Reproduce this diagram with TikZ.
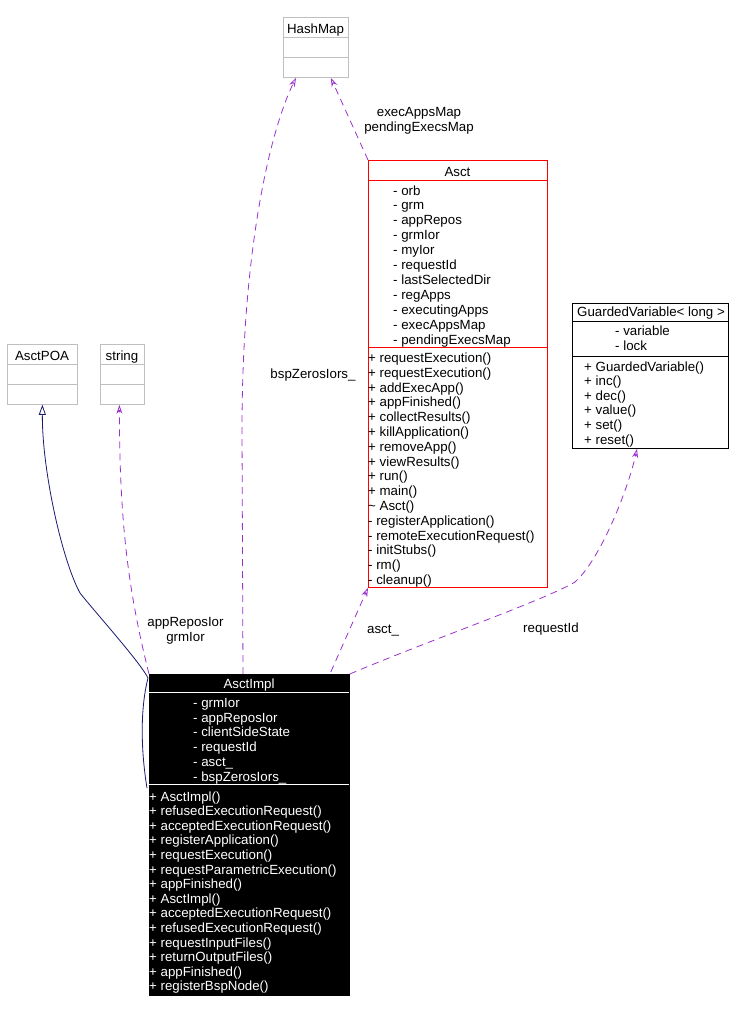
\documentclass[tikz,border=0pt]{standalone}
\usepackage{fontspec}
\setmainfont{Liberation Sans}
\usetikzlibrary{arrows.meta,calc}

\definecolor{edgepurple}{RGB}{154,50,205}
\definecolor{inhnavy}{RGB}{25,25,112}
\definecolor{boxgray}{RGB}{191,191,191}

\tikzset{
  classbox/.style={draw=boxgray, line width=0.8pt, inner sep=0pt, anchor=north west},
  member/.style={inner sep=0pt, anchor=base west, font=\fontsize{13.3}{15}\selectfont},
  classtitle/.style={member, anchor=base},
  useedge/.style={edgepurple, line width=0.8pt, dash pattern=on 7pt off 5pt,
    -{Stealth[open,length=9pt,width=6pt]}},
  inherit/.style={inhnavy, line width=0.8pt, -{Triangle[open,length=10pt,width=7pt]}},
  edgelabel/.style={member, align=center, anchor=north}
}

\begin{document}
\begin{tikzpicture}[x=1pt,y=-1pt]
\useasboundingbox (0,0) rectangle (733,1012);

% plain classes
\node[classbox, minimum width=65pt, minimum height=60pt] (hashmap) at (283,17) {};
\draw[boxgray, line width=0.8pt] (283,37) -- (348,37) (283,57) -- (348,57);
\node[classtitle] (hashmap-t) at (315.5,33) {HashMap};

\node[classbox, minimum width=70pt, minimum height=60pt] (asctpoa) at (7,344) {};
\draw[boxgray, line width=0.8pt] (7,364) -- (77,364) (7,384) -- (77,384);
\node[classtitle] (asctpoa-t) at (42,360) {AsctPOA};

\node[classbox, minimum width=44pt, minimum height=60pt] (string) at (100,344) {};
\draw[boxgray, line width=0.8pt] (100,364) -- (144,364) (100,384) -- (144,384);
\node[classtitle] (string-t) at (122,360) {string};

% Asct
\node[classbox, draw=red, minimum width=179pt, minimum height=427pt] (asct) at (368,160) {};
\draw[red, line width=0.8pt] (368,180.5) -- (547,180.5) (368,347.5) -- (547,347.5);
\node[classtitle] (asct-t) at (457.5,176) {Asct};
\foreach \a [count=\i from 0] in {orb,grm,appRepos,grmIor,myIor,requestId,lastSelectedDir,
    regApps,executingApps,execAppsMap,pendingExecsMap}
  \node[member] (asct-a\i) at (393,195+14.9*\i) {- \a};
\foreach \m [count=\i from 0] in {+ requestExecution(),+ requestExecution(),+ addExecApp(),
    + appFinished(),+ collectResults(),+ killApplication(),+ removeApp(),+ viewResults(),
    + run(),+ main(),\textasciitilde{} Asct(),- registerApplication(),
    - remoteExecutionRequest(),- initStubs(),- rm(),- cleanup()}
  \node[member] (asct-m\i) at (368,362.5+14.8*\i) {\m};

% GuardedVariable
\node[classbox, draw=black, minimum width=156pt, minimum height=145pt] (guarded) at (572,303) {};
\draw[black, line width=0.8pt] (572,321) -- (728,321) (572,356) -- (728,356);
\node[classtitle] (guarded-t) at (651,316) {GuardedVariable< long >};
\foreach \a [count=\i from 0] in {variable,lock}
  \node[member] (guarded-a\i) at (615,335.5+14.6*\i) {- \a};
\foreach \m [count=\i from 0] in {GuardedVariable(),inc(),dec(),value(),set(),reset()}
  \node[member] (guarded-m\i) at (584,371+14.6*\i) {+ \m};

% AsctImpl
\node[classbox, draw=black, fill=black, minimum width=200pt, minimum height=321pt] (impl) at (149,674) {};
\draw[white, line width=0.8pt] (149,692) -- (349,692) (149,784) -- (349,784);
\node[classtitle, white] (impl-t) at (249,688) {AsctImpl};
\foreach \a [count=\i from 0] in {grmIor,appReposIor,clientSideState,requestId,asct\_,bspZerosIors\_}
  \node[member, white] (impl-a\i) at (193,707.5+14.7*\i) {- \a};
\foreach \m [count=\i from 0] in {AsctImpl(),refusedExecutionRequest(),acceptedExecutionRequest(),
    registerApplication(),requestExecution(),requestParametricExecution(),appFinished(),
    AsctImpl(),acceptedExecutionRequest(),refusedExecutionRequest(),requestInputFiles(),
    returnOutputFiles(),appFinished(),registerBspNode()}
  \node[member, white] (impl-m\i) at (149,801+14.6*\i) {+ \m};

% connectors
\draw[inherit] ($(impl.north west)+(-2,114)$) .. controls (140,745) and (141,705) .. (148,678)
  .. controls (140,662) and (95,612) .. (80,593)
  .. controls (62,560) and (42,470) .. (asctpoa.south);
\draw[useedge] (impl.north west) .. controls +(-20,-80) and +(0,120) .. ($(string.south)+(-3,0)$);
\draw[useedge] ($(impl.north west)+(94,0)$) -- (242,430)
  .. controls +(0,-180) and +(-26,53) .. ($(hashmap.south west)+(13,0)$);
\draw[useedge] (asct.north west) -- ($(hashmap.south east)+(-18,0)$);
\draw[useedge] ($(impl.north east)+(-19,-2)$) -- (asct.south west);
\draw[useedge] (impl.north east) .. controls (430,640) and (545,600) .. (575,582)
  .. controls (600,560) and (628,490) .. ($(guarded.south west)+(65,0)$);

% labels
\node[edgelabel] (lbl-repos) at (185.5,617) {appReposIor\\grmIor};
\node[edgelabel] (lbl-maps) at (419,107) {execAppsMap\\pendingExecsMap};
\node[member, anchor=base] (lbl-bsp) at (313,378.3) {bspZerosIors\_};
\node[member] (lbl-asct) at (367,633) {asct\_};
\node[member] (lbl-req) at (523,632.7) {requestId};

\end{tikzpicture}
\end{document}
